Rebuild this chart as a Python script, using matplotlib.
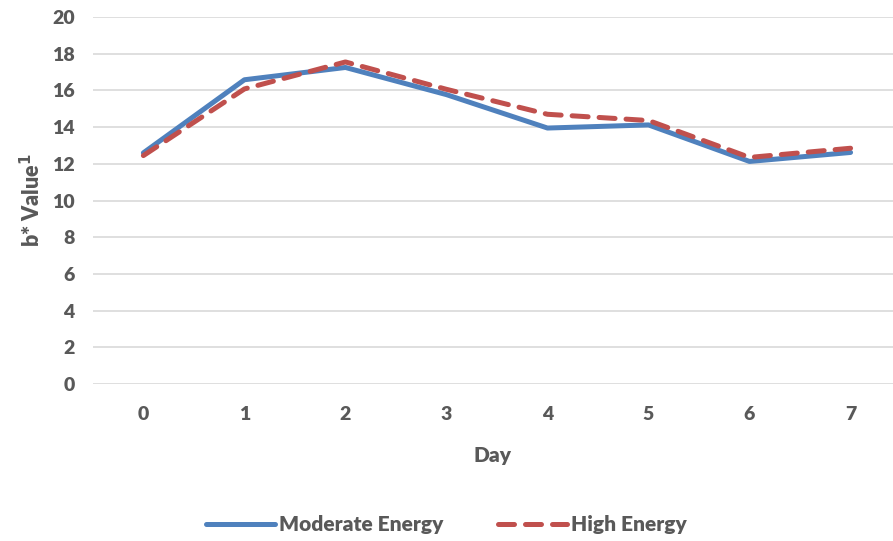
import numpy as np
import matplotlib.pyplot as plt

# b* values by day
days = [0, 1, 2, 3, 4, 5, 6, 7]
moderate = [12.6, 16.58, 17.25, 15.77, 13.95, 14.12, 12.13, 12.62]
high = [12.45, 16.08, 17.55, 16.06, 14.7, 14.36, 12.35, 12.85]
yticks = [0, 2, 4, 6, 8, 10, 12, 14, 16, 18, 20]

grey = '#595959'
plt.rcParams['font.family'] = ['Lato', 'DejaVu Sans']
plt.rcParams['font.weight'] = 'heavy'

fig = plt.figure(figsize=(8.93, 5.41), dpi=100)
ax = fig.add_axes([0.104, 0.29, 0.896, 0.6786])

ax.plot(days, moderate, color='#4F81BD', lw=3.6, solid_capstyle='round',
        solid_joinstyle='round', label='Moderate Energy', zorder=3)
ax.plot(days, high, color='#C0504D', lw=3.6, ls=(0, (3.2, 2.2)),
        dash_capstyle='round', dash_joinstyle='round', label='High Energy', zorder=4)

ax.set_xlim(-0.5, 7.42)
ax.set_ylim(0, 20)
ax.set_yticks(yticks)
ax.set_xticks(days)
ax.grid(axis='y', color='#D9D9D9', lw=1.2)
ax.set_axisbelow(True)
for s in ax.spines.values():
    s.set_visible(False)
ax.tick_params(length=0, labelsize=14, labelcolor=grey, pad=16)
ax.tick_params(axis='y', pad=13)

ax.set_xlabel('Day', fontsize=15, color=grey, fontweight='heavy', labelpad=16)
ax.set_ylabel('b* Value$^{\\mathbf{1}}$', fontsize=15.5, color=grey, fontweight='heavy', labelpad=6)

fig.legend(loc='lower center', bbox_to_anchor=(0.5, -0.022), ncol=2, frameon=False,
           fontsize=15, labelcolor=grey, handlelength=3.3, columnspacing=2.6,
           handletextpad=0.2)

fig.savefig('out.png', dpi=100)
